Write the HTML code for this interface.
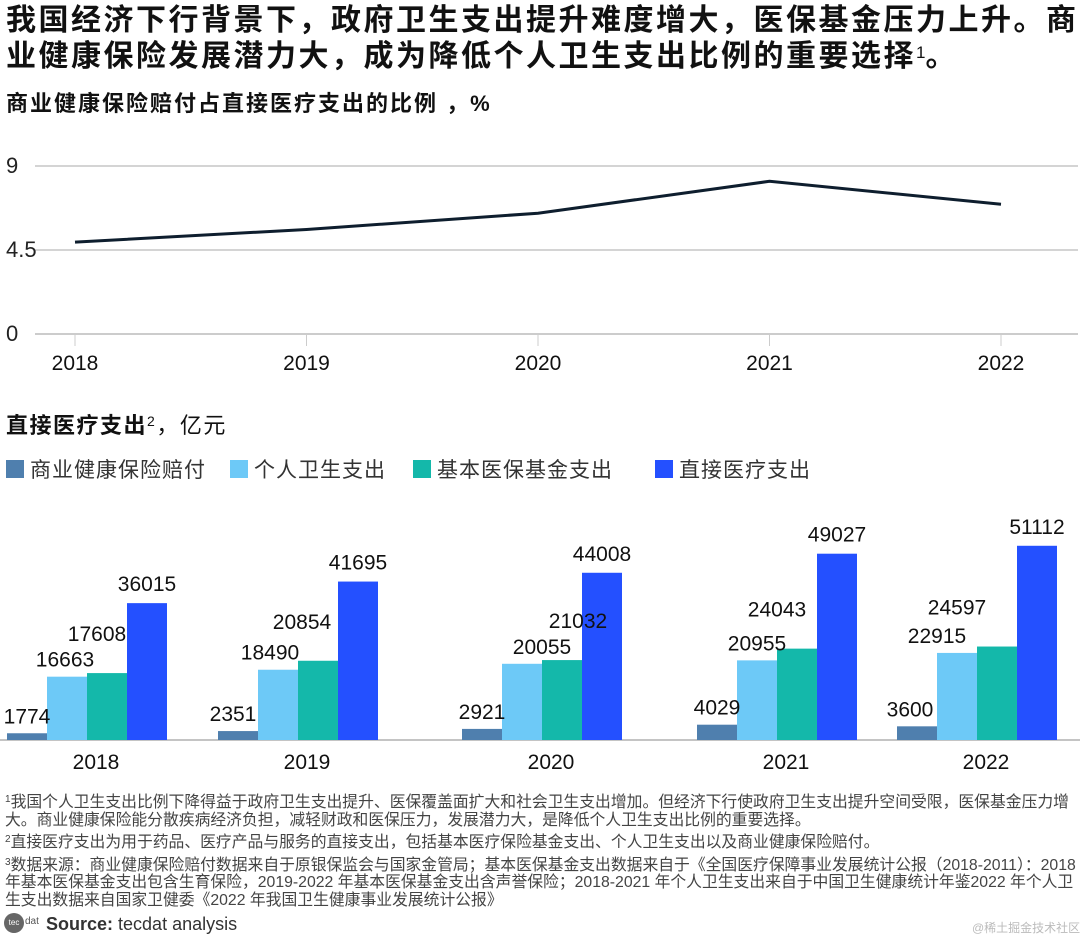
<!DOCTYPE html>
<html><head><meta charset="utf-8">
<style>
body{margin:0;width:1080px;height:937px;background:#fff;font-family:"Liberation Sans","Noto Sans CJK SC",sans-serif;color:#111;position:relative;overflow:hidden}
.abs{position:absolute;white-space:nowrap}
.sp{font-size:10px;position:relative;top:-5px;line-height:0}
</style></head><body>
<div class="abs" style="left:6px;top:5px;font-size:30px;font-weight:bold;line-height:32px;letter-spacing:2.5px">我国经济下行背景下，政府卫生支出提升难度增大，医保基金压力上升。商<br>业健康保险发展潜力大，成为降低个人卫生支出比例的重要选择<span style="font-size:17px;vertical-align:8px;font-weight:normal;letter-spacing:0">1</span>。</div>
<div class="abs" style="left:6px;top:86px;font-size:22px;font-weight:bold;letter-spacing:2px">商业健康保险赔付占直接医疗支出的比例 ，%</div>
<svg class="abs" style="left:0;top:0" width="1080" height="937" id="svg"></svg>
<div class="abs" style="left:6px;top:408px;font-size:22px;font-weight:bold;letter-spacing:1.5px">直接医疗支出<span style="font-size:14px;vertical-align:7px;font-weight:normal">2</span><span style="font-weight:normal">，亿元</span></div>
<div class="abs" style="left:6px;top:454px;font-size:21px;letter-spacing:1px;color:#333">
<span style="position:absolute;left:0;top:0;display:flex;align-items:center"><i style="display:inline-block;width:18px;height:18px;background:#4f7fae;margin-right:6px"></i>商业健康保险赔付</span>
<span style="position:absolute;left:224px;top:0;display:flex;align-items:center"><i style="display:inline-block;width:18px;height:18px;background:#6dc9f7;margin-right:6px"></i>个人卫生支出</span>
<span style="position:absolute;left:407px;top:0;display:flex;align-items:center"><i style="display:inline-block;width:18px;height:18px;background:#14b8aa;margin-right:6px"></i>基本医保基金支出</span>
<span style="position:absolute;left:649px;top:0;display:flex;align-items:center"><i style="display:inline-block;width:18px;height:18px;background:#2450ff;margin-right:6px"></i>直接医疗支出</span>
</div>
<div class="abs" style="left:5px;top:794px;font-size:15.8px;line-height:17.5px;color:#444;white-space:normal;width:1075px">
<div><span class="sp">1</span>我国个人卫生支出比例下降得益于政府卫生支出提升、医保覆盖面扩大和社会卫生支出增加。但经济下行使政府卫生支出提升空间受限，医保基金压力增大。商业健康保险能分散疾病经济负担，减轻财政和医保压力，发展潜力大，是降低个人卫生支出比例的重要选择。</div>
<div style="margin-top:5px"><span class="sp">2</span>直接医疗支出为用于药品、医疗产品与服务的直接支出，包括基本医疗保险基金支出、个人卫生支出以及商业健康保险赔付。</div>
<div style="margin-top:5px"><span class="sp">3</span>数据来源：商业健康保险赔付数据来自于原银保监会与国家金管局；基本医保基金支出数据来自于《全国医疗保障事业发展统计公报（2018-2011）：2018 年基本医保基金支出包含生育保险，2019-2022 年基本医保基金支出含声誉保险；2018-2021 年个人卫生支出来自于中国卫生健康统计年鉴2022 年个人卫生支出数据来自国家卫健委《2022 年我国卫生健康事业发展统计公报》</div>
</div>
<div class="abs" style="left:4px;top:913px;width:20px;height:20px;border-radius:10px;background:#666;color:#fff;font-size:8px;line-height:20px;text-align:center">tec</div>
<div class="abs" style="left:25px;top:916px;font-size:10px;color:#555">dat</div>
<div class="abs" style="left:46px;top:914px;font-size:18px;color:#333"><b>Source:</b> tecdat analysis</div>
<div class="abs" style="left:972px;top:919px;font-size:12px;color:#bbb">@稀土掘金技术社区</div>
<script>
const years=['2018','2019','2020','2021','2022'];
const ratio=[4.92,5.6,6.47,8.18,6.95];
const yTicks=[0,4.5,9];
const commercial=[1774,2351,2921,4029,3600];
const personal=[16663,18490,20055,20955,22915];
const basic=[17608,20854,21032,24043,24597];
const direct=[36015,41695,44008,49027,51112];
const svg=document.getElementById('svg');
const NS='http://www.w3.org/2000/svg';
function mk(t,a){const e=document.createElementNS(NS,t);for(const k in a)e.setAttribute(k,a[k]);svg.appendChild(e);return e;}
// line chart
const lx=i=>75+i*231.5, ly=v=>334-v*18.67;
yTicks.forEach(t=>{
 const g=mk('line',{x1:35,x2:1078,y1:ly(t),y2:ly(t),stroke:t===0?'#ccc':'#aaa','stroke-width':t===0?2:1});
 
 
 const tx=mk('text',{x:6,y:ly(t)+7,'font-size':22,fill:'#222','font-family':'Liberation Sans'});
 tx.textContent=t;
 
 
});
years.forEach((y,i)=>{
 const tk=mk('line',{x1:lx(i),x2:lx(i),y1:335,y2:346,stroke:'#ccc','stroke-width':1});
 
 
 const tx=mk('text',{x:lx(i),y:370,'font-size':21,'text-anchor':'middle',fill:'#111','font-family':'Liberation Sans'});
 tx.textContent=y;
 
 
});
const pl=mk('polyline',{points:ratio.map((v,i)=>lx(i)+','+ly(v)).join(' '),fill:'none',stroke:'#0e1e2e','stroke-width':3});


// bar chart
const groupStart=[7,218,462,697,897];
const labelGap=[10,10,32,12];
const labelDx=[[0,-2,-10,0],[-5,-8,-16,0],[0,20,16,0],[0,0,-20,0],[-7,-20,-40,0]];
const bw=40, base=740, by=v=>v*0.0038;
const base_l=mk('line',{x1:0,x2:1080,y1:base,y2:base,stroke:'#888','stroke-width':1});


const series=[[commercial,'#4f7fae','commercial'],[personal,'#6dc9f7','personal'],[basic,'#14b8aa','basic'],[direct,'#2450ff','direct']];
years.forEach((y,i)=>{
 series.forEach((s,j)=>{
  const v=s[0][i], h=by(v), x=groupStart[i]+j*bw;
  const r=mk('rect',{x:x,y:base-h,width:bw,height:h,fill:s[1]});
  
  
 });
 const t=mk('text',{x:groupStart[i]+2*bw+9,y:769,'font-size':21,'text-anchor':'middle',fill:'#111','font-family':'Liberation Sans'});
 t.textContent=y;
 
 
});
years.forEach((y,i)=>{
 series.forEach((s,j)=>{
  const v=s[0][i], h=by(v), x=groupStart[i]+j*bw;
  const t=mk('text',{x:x+bw/2+labelDx[i][j],y:base-h-labelGap[j],'font-size':21,'text-anchor':'middle',fill:'#111','font-family':'Liberation Sans'});
  t.textContent=v;
  
  
 });
});
</script>
</body></html>
